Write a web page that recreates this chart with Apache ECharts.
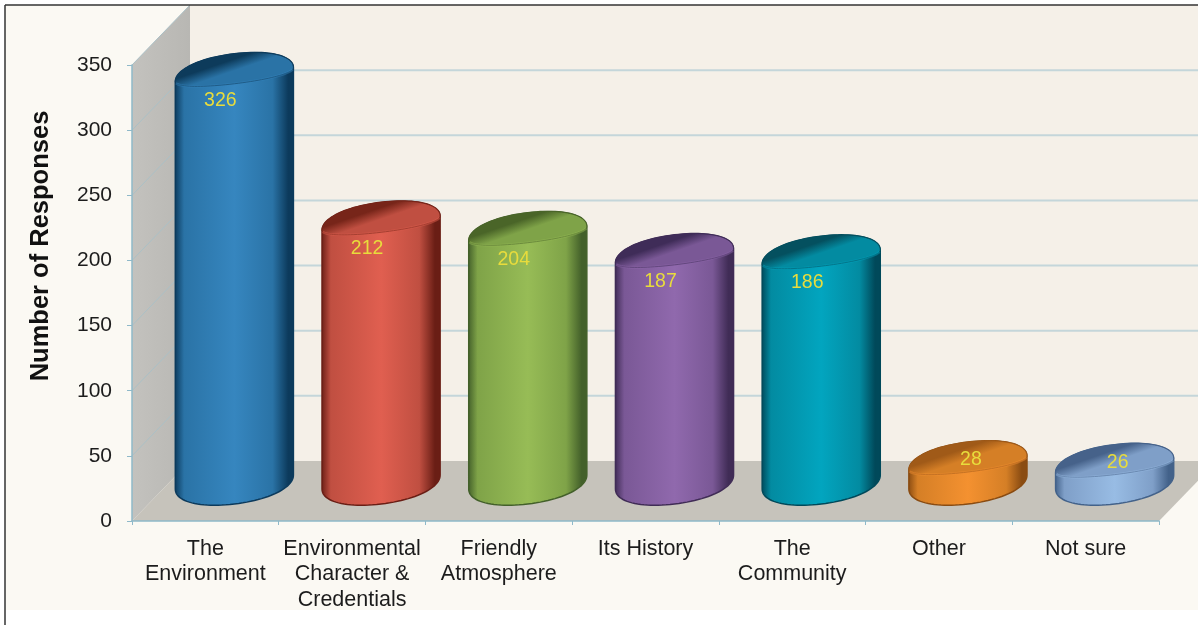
<!DOCTYPE html>
<html><head><meta charset="utf-8">
<style>html,body{margin:0;padding:0;background:#fff}#c{width:1198px;height:625px}</style>
<script src="https://cdn.jsdelivr.net/npm/echarts@6/dist/echarts.min.js"></script>
</head><body><div id="c"></div>
<script>
const categories = ['The\nEnvironment','Environmental\nCharacter &\nCredentials','Friendly\nAtmosphere','Its History','The\nCommunity','Other','Not sure'];
const responses = [326,212,204,187,186,28,26];
const yTicks = [0,50,100,150,200,250,300,350];
const lightColors = ['#3686bf','#e05f50','#97bc56','#9069ad','#02a5bf','#f49130','#98bce4'];
const darkColors  = ['#0c3a5c','#6a1e15','#43602a','#402c56','#00495a','#8a4c12','#43628a'];
const topColors   = ['#0d3b5b','#772519','#4a6528','#3f2c58','#04505f','#a05a18','#46628a'];
const midColors   = ['#2a73a6','#c04f41','#7fa348','#7a5896','#038ba1','#d57f26','#7f9fc8'];

const DEPTH_X = 58, DEPTH_Y = 60, TILT = 7, BAR_RATIO = 0.805, ROUND = 0.95;
const FAR_RISE = 21, NEAR_DROP = 9, FOOT_DROP = 22, SHOULDER = 6.5, FOOT_LIFT = 8;

function spow(a) { return Math.sign(a) * Math.pow(Math.abs(a), ROUND); }
// half-outline arcs: upper half rises by `up`, lower half drops by `down`
function arc(cx, cy, rx, from, to, n, up, down) {
  const p = [];
  for (let i = 0; i <= n; i++) {
    const t = from + (to - from) * i / n;
    const c = spow(Math.cos(t)), s = spow(Math.sin(t));
    p.push([cx + rx * c, cy - TILT * c - (s > 0 ? up : down) * s]);
  }
  return p;
}
function renderWalls(params, api) {
  const g = params.coordSys, x0 = g.x, x1 = g.x + g.width, yb = g.y + g.height, yt = g.y;
  const children = [
    {type:'polygon', shape:{points:[[x0+DEPTH_X,yt-DEPTH_Y],[x1+DEPTH_X,yt-DEPTH_Y],[x1+DEPTH_X,yb-DEPTH_Y],[x0+DEPTH_X,yb-DEPTH_Y]]}, style:{fill:'#f5f0e8'}},
    {type:'polygon', shape:{points:[[x0,yt],[x0+DEPTH_X,yt-DEPTH_Y],[x0+DEPTH_X,yb-DEPTH_Y],[x0,yb]]},
      style:{fill:{type:'linear',x:0,y:0,x2:1,y2:0,colorStops:[{offset:0,color:'#c3c2be'},{offset:1,color:'#b8b7b3'}]}}},
    {type:'polygon', shape:{points:[[x0,yb],[x0+DEPTH_X,yb-DEPTH_Y],[x1+DEPTH_X,yb-DEPTH_Y],[x1,yb]]}, style:{fill:'#c6c3bb'}}
  ];
  yTicks.forEach(v => {
    if (v === 0) return;
    const y = api.coord([0, v])[1];
    if (v !== 350) children.push({type:'line', shape:{x1:x0+DEPTH_X,y1:y-DEPTH_Y,x2:x1+DEPTH_X,y2:y-DEPTH_Y}, style:{stroke:'#c4d6da',lineWidth:2}});
    children.push({type:'line', shape:{x1:x0,y1:y,x2:x0+DEPTH_X,y2:y-DEPTH_Y}, style:{stroke:'#abc0c6',lineWidth:1}});
  });
  return {type:'group', children};
}
function renderCylinder(params, api) {
  const i = api.value(0), v = api.value(1);
  const base = api.coord([i, 0]), top = api.coord([i, v]);
  const rx = api.size([1, 0])[0] * BAR_RATIO / 2;
  const cx = base[0] + DEPTH_X / 2, by = base[1] - DEPTH_Y / 2 - 1, ty = top[1] - DEPTH_Y / 2 + 2;
  const sy = ty + SHOULDER, fy = by - FOOT_LIFT;
  const L = lightColors[i], D = darkColors[i], T = topColors[i], M = midColors[i];
  const bodyPts = arc(cx, fy, rx, 0, -Math.PI, 48, FOOT_DROP, FOOT_DROP).concat(arc(cx, sy, rx, Math.PI, 0, 48, FAR_RISE, NEAR_DROP));
  const face = arc(cx, sy, rx, 0, Math.PI * 2, 96, FAR_RISE, NEAR_DROP);
  const rim = arc(cx, sy, rx, -Math.PI * 0.95, -Math.PI * 0.05, 40, FAR_RISE, NEAR_DROP);
  const short = v < 50;
  const children = [
    {type:'polygon', shape:{points:bodyPts}, style:{
      fill:{type:'linear',x:0,y:0,x2:1,y2:0,colorStops:[
        {offset:0,color:D},{offset:0.08,color:M},{offset:0.5,color:L},{offset:0.82,color:M},{offset:0.95,color:D},{offset:1,color:D}]},
      stroke:D,lineWidth:1.5}},
    {type:'polygon', shape:{points:face}, style:{
      fill:{type:'linear',x:0,y:0,x2:0.1,y2:1,colorStops:[{offset:0,color:T},{offset:0.7,color:T},{offset:1,color:M}]},
      stroke:T,lineWidth:1}},
    {type:'polyline', shape:{points:rim}, style:{stroke:L,lineWidth:2.5,opacity:0.45,fill:null}},
    {type:'text', style:{
      text:String(v), x:cx + (short ? 3 : -14), y:ty + (short ? 3 : 32),
      fill:'#e8dc3c', font:'19.5px "Liberation Sans", Arial, sans-serif', align:'center', verticalAlign:'middle'}}
  ];
  return {type:'group', children};
}
const chart = echarts.init(document.getElementById('c'), null, {renderer:'canvas'});
chart.setOption({
  animation:false,
  backgroundColor:'#ffffff',
  textStyle:{fontFamily:'"Liberation Sans", Arial, sans-serif'},
  graphic:[
    {type:'rect', z:-100, silent:true, shape:{x:5,y:5,width:1193,height:605}, style:{fill:'#fbf9f3'}},
    {type:'line', z:100, silent:true, shape:{x1:5,y1:5,x2:1198,y2:5}, style:{stroke:'#333',lineWidth:1.5}},
    {type:'line', z:100, silent:true, shape:{x1:5,y1:5,x2:5,y2:625}, style:{stroke:'#333',lineWidth:1.5}}
  ],
  grid:{left:132,top:65,width:1027,height:456},
  xAxis:{type:'category',data:categories,
    axisLine:{show:true,lineStyle:{color:'#8fb9c9',width:1.5}},
    axisTick:{show:true,length:4,alignWithLabel:false,lineStyle:{color:'#8fb9c9'}},
    axisLabel:{color:'#1c1c1c',fontSize:21.5,lineHeight:25.5,margin:15,interval:0},
    splitLine:{show:false}},
  yAxis:{type:'value',min:0,max:350,interval:50,
    name:'Number of Responses',nameLocation:'middle',nameGap:78,nameRotate:90,
    nameTextStyle:{color:'#111',fontSize:25.5,fontWeight:'bold',padding:[0,0,0,94]},
    axisLine:{show:true,lineStyle:{color:'#8fb9c9',width:1.5}},
    axisTick:{show:true,length:5,lineStyle:{color:'#8fb9c9'}},
    axisLabel:{color:'#1c1c1c',fontSize:21,margin:20},
    splitLine:{show:false}},
  series:[
    {type:'custom',z:-1,silent:true,clip:false,renderItem:renderWalls,data:[[0,0]],encode:{x:0,y:1}},
    {type:'custom',z:3,silent:true,clip:false,renderItem:renderCylinder,
      data:responses.map((v,i)=>[i,v]),encode:{x:0,y:1}}
  ]
});
</script></body></html>
